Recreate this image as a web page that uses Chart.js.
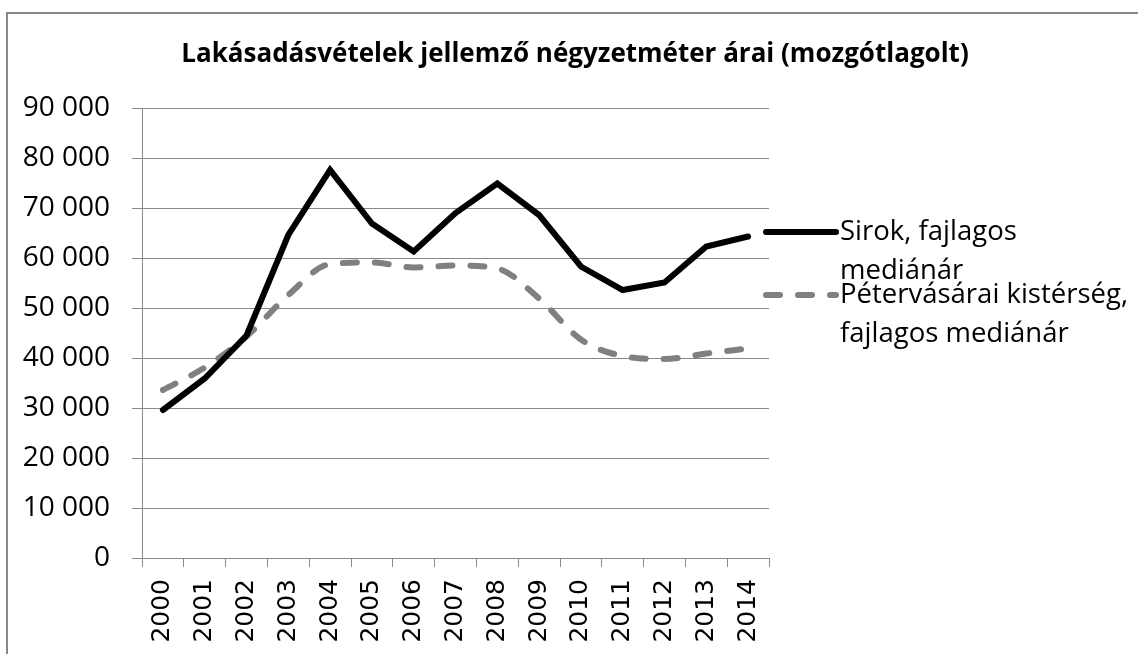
<!DOCTYPE html>
<html>
<head>
<meta charset="utf-8">
<script src="https://cdn.jsdelivr.net/npm/chart.js@4/dist/chart.umd.min.js"></script>
<style>
  html, body { margin: 0; padding: 0; background: #fff; }
  #wrap { position: relative; width: 1138px; height: 654px; }
</style>
</head>
<body>
<div id="wrap"><canvas id="chart" width="1138" height="654"></canvas></div>
<script>
const years = ['2000', '2001', '2002', '2003', '2004', '2005', '2006', '2007', '2008', '2009', '2010', '2011', '2012', '2013', '2014'];
const sirokValues = [29600, 35900, 44500, 64600, 77600, 66900, 61300, 69000, 74900, 68600, 58300, 53600, 55100, 62300, 64300];
const petervasaraValues = [33600, 38100, 44300, 52600, 58800, 59100, 58100, 58500, 57900, 51900, 43700, 40400, 39800, 40900, 41900];
const seriesLabels = [['Sirok, fajlagos', 'mediánár'], ['Pétervásárai kistérség,', 'fajlagos mediánár']];
const titleText = 'Lakásadásvételek jellemző négyzetméter árai (mozgótlagolt)';

const GRID = '#888888';
const bodyFont = '"Open Sans", "DejaVu Sans", sans-serif';

// frame, title and the two-line legend on the right
const decorations = {
  id: 'decorations',
  beforeDraw(chart) {
    const c = chart.ctx;
    c.save();
    c.fillStyle = '#fff';
    c.fillRect(0, 0, chart.width, chart.height);
    c.strokeStyle = GRID;
    c.lineWidth = 2;
    c.beginPath();
    c.moveTo(7, chart.height);
    c.lineTo(7, 13);
    c.lineTo(chart.width, 13);
    c.stroke();
    c.restore();
  },
  afterDraw(chart) {
    const c = chart.ctx;
    c.save();
    c.fillStyle = '#000';
    c.font = 'bold 26px ' + bodyFont;
    c.textAlign = 'center';
    c.textBaseline = 'middle';
    c.fillText(titleText, 575, 55);

    const rows = [232, 295];
    c.font = '27.5px ' + bodyFont;
    c.textAlign = 'left';
    chart.data.datasets.forEach((ds, i) => {
      const y = rows[i];
      c.strokeStyle = ds.borderColor;
      c.lineWidth = ds.borderWidth;
      c.lineCap = 'round';
      c.setLineDash(ds.borderDash || []);
      c.beginPath();
      c.moveTo(766, y);
      c.lineTo(836, y);
      c.stroke();
      c.setLineDash([]);
      seriesLabels[i].forEach((line, j) => {
        c.fillText(line, 840, y + j * 39);
      });
    });
    c.restore();
  }
};

new Chart(document.getElementById('chart'), {
  type: 'line',
  data: {
    labels: years,
    datasets: [
      {
        label: seriesLabels[0].join(' '),
        data: sirokValues,
        borderColor: '#000000',
        borderWidth: 6,
        pointRadius: 0,
        tension: 0,
        borderCapStyle: 'round',
        borderJoinStyle: 'miter'
      },
      {
        label: seriesLabels[1].join(' '),
        data: petervasaraValues,
        borderColor: '#808080',
        borderWidth: 6,
        borderDash: [14, 18],
        pointRadius: 0,
        cubicInterpolationMode: 'monotone',
        borderCapStyle: 'round'
      }
    ]
  },
  options: {
    responsive: false,
    animation: false,
    layout: { padding: { top: 108, right: 369, bottom: 0, left: 0 } },
    plugins: {
      legend: { display: false },
      title: { display: false },
      tooltip: { enabled: false }
    },
    scales: {
      x: {
        offset: true,
        afterFit(scale) { scale.height = 96; },
        grid: {
          offset: true,
          drawOnChartArea: false,
          drawTicks: true,
          tickLength: 9,
          color: GRID,
          lineWidth: 1
        },
        border: { color: GRID, width: 1 },
        ticks: {
          minRotation: 90,
          maxRotation: 90,
          padding: 12,
          color: '#000',
          font: { family: '"DejaVu Sans", sans-serif', size: 25 }
        }
      },
      y: {
        min: 0,
        max: 90000,
        afterFit(scale) { scale.width = 142; },
        grid: {
          color: GRID,
          lineWidth: 1,
          tickLength: 10
        },
        border: { color: GRID, width: 1 },
        ticks: {
          stepSize: 10000,
          padding: 22,
          color: '#000',
          font: { family: bodyFont, size: 28 },
          callback: v => v === 0 ? '0' : String(v).replace(/\B(?=(\d{3})+(?!\d))/g, ' ')
        }
      }
    }
  },
  plugins: [decorations]
});
</script>
</body>
</html>
